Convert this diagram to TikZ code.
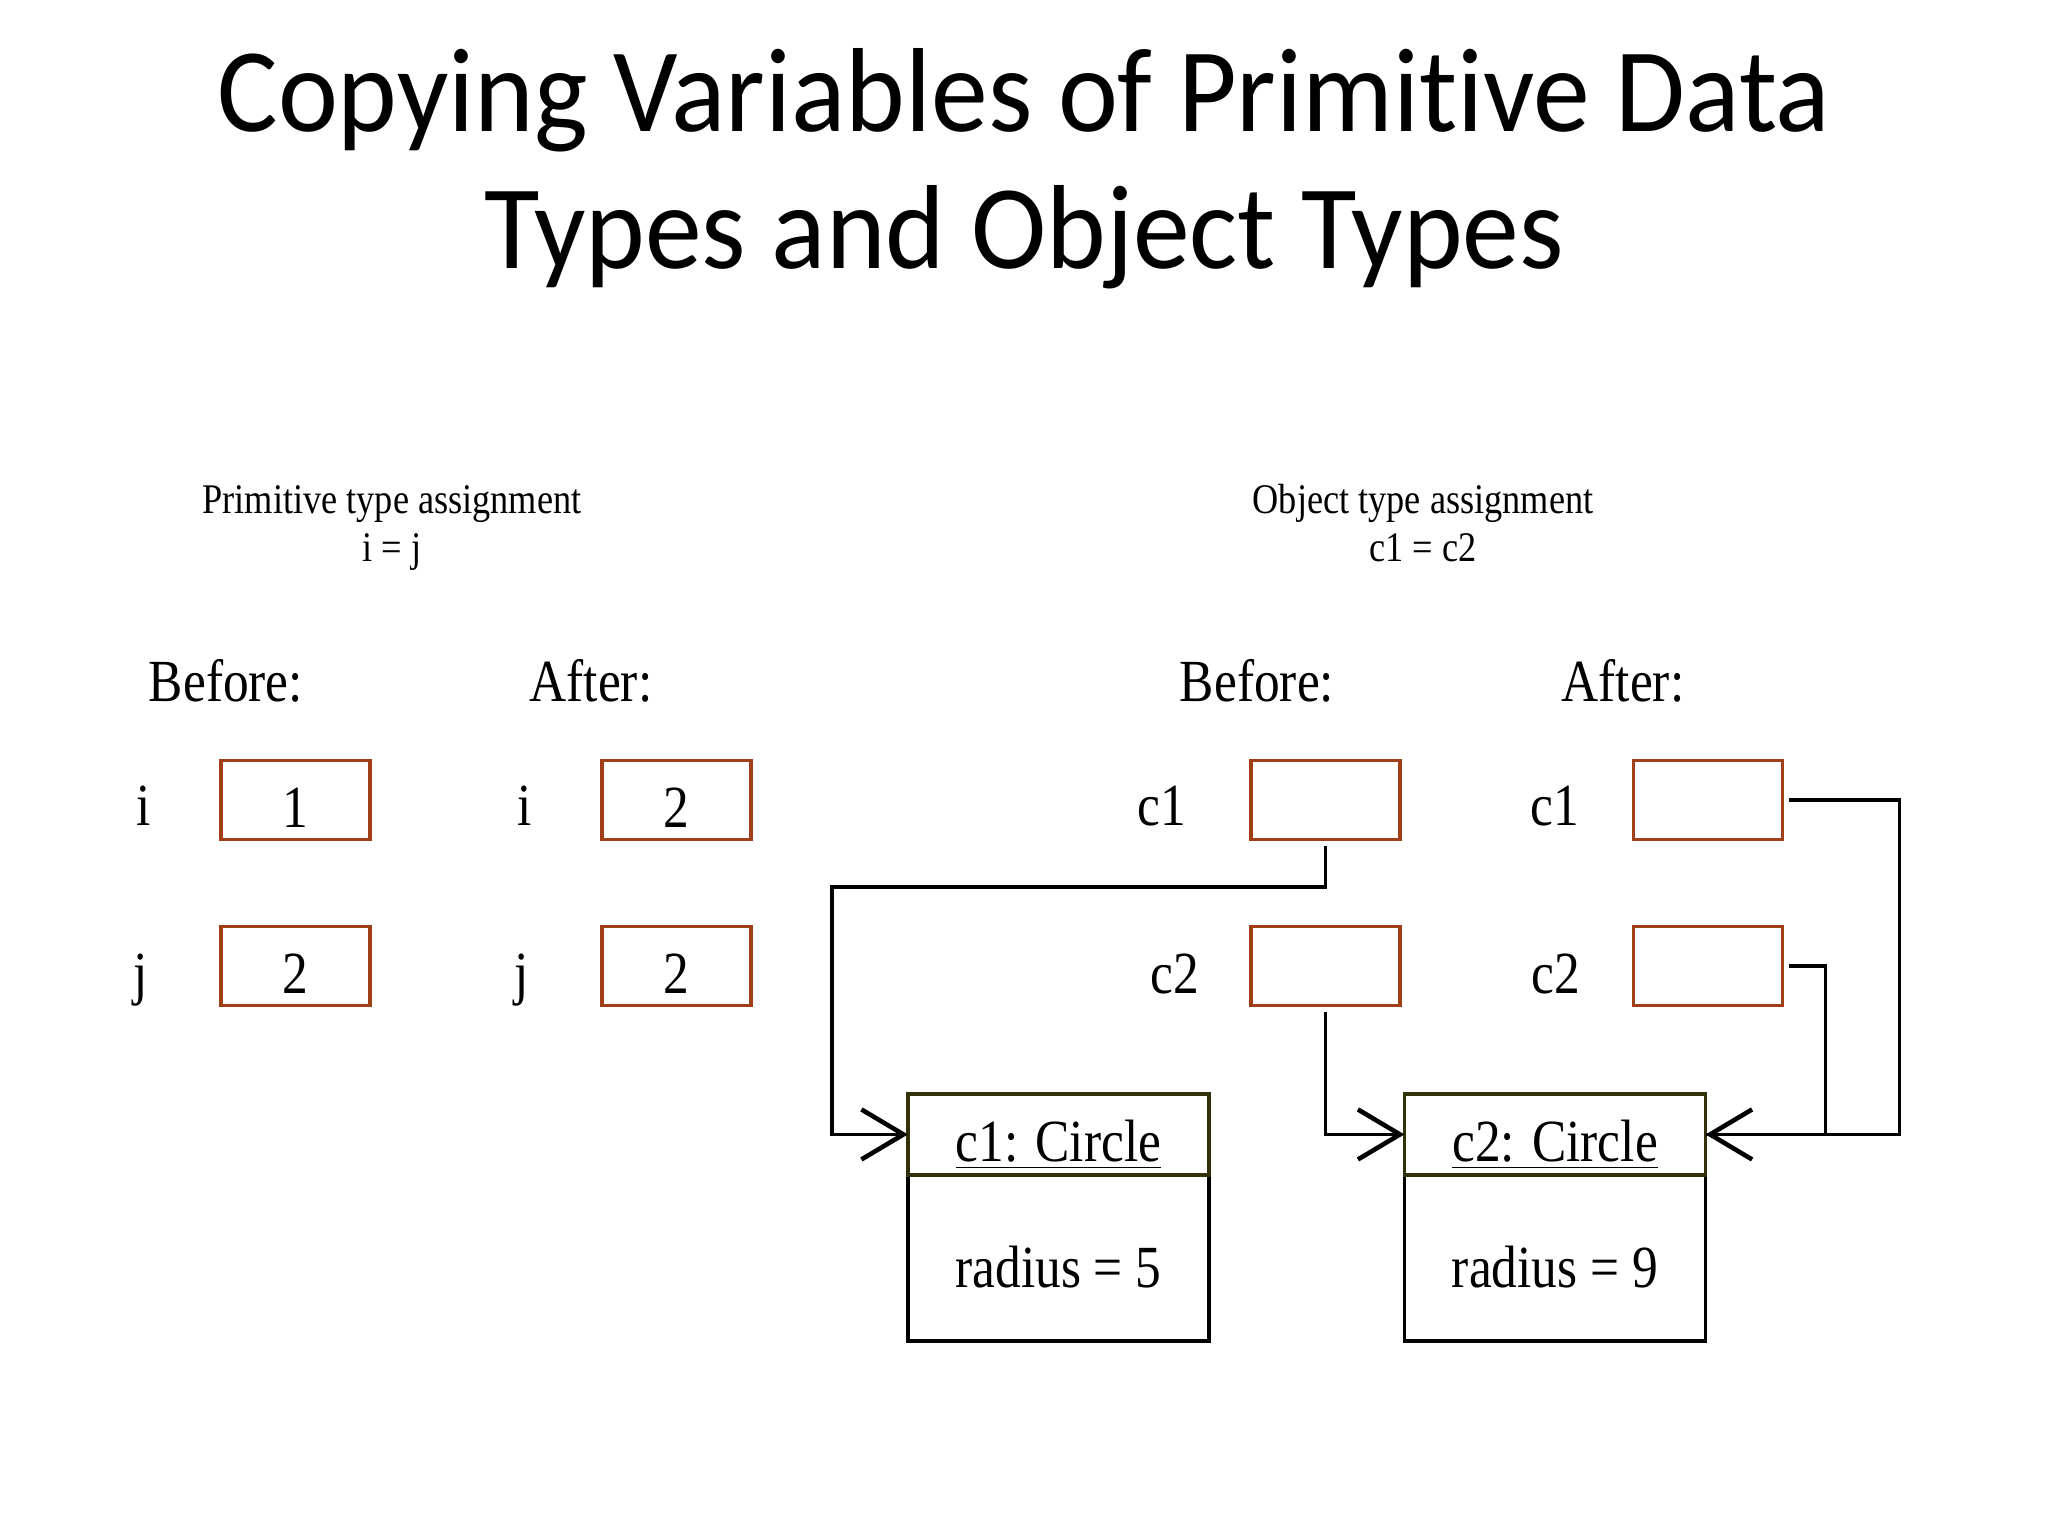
\documentclass[tikz,border=0pt]{standalone}
\usepackage{fontspec}
\setmainfont{Liberation Serif}[FakeStretch=0.86]
\newfontfamily\titlefont{Carlito}[FakeStretch=0.95, Ligatures={NoCommon,NoRare}]
\usetikzlibrary{positioning,arrows.meta}

\definecolor{boxbrown}{RGB}{160,62,22}
\definecolor{headolive}{RGB}{50,50,10}

\tikzset{
  big/.style={font=\fontsize{17}{20}\selectfont},
  small/.style={font=\fontsize{12}{14}\selectfont},
  valbox/.style={big, draw=boxbrown, line width=1pt, minimum width=1.49cm,
    minimum height=0.79cm, inner sep=0pt, text height=0.54cm, text depth=0pt},
  varname/.style={big, anchor=base, inner sep=0pt},
  objhead/.style={big, draw=headolive, line width=1pt, minimum width=3.01cm,
    minimum height=0.81cm, inner sep=0pt, outer sep=0pt,
    text height=0.54cm, text depth=0pt},
  objbody/.style={big, draw=black, line width=1pt, minimum width=3.01cm,
    minimum height=1.66cm, inner sep=0pt, outer sep=0pt,
    text height=0.58cm, text depth=0pt},
  ref/.style={line width=1pt, shorten <=0.05cm,
    -{Straight Barb[length=0.42cm, width=0.5cm, line width=1.3pt]}}
}

\begin{document}
\begin{tikzpicture}[x=0.01cm, y=-0.01cm]
	% page frame, one unit is one pixel of the slide
	\useasboundingbox (0,0) rectangle (2048,1536);
	% title
	\node[anchor=base, font=\titlefont\fontsize{34}{41}\selectfont] (titleA) at (1024,131) {Copying Variables of Primit\kern0pt ive Data};
	\node[anchor=base, font=\titlefont\fontsize{34}{41}\selectfont] (titleB) at (1024,268) {Types and Object Types};

	% primitive side
	\node[small, anchor=base] (primHead) at (392,513) {Primitive type assignment};
	\node[small, anchor=base] (primEq) at (392,561) {i = j};
	\node[varname] (primBefore) at (226,701) {Before:};
	\node[varname] (primAfter) at (591,701) {After:};

	\node[valbox] (ib) at (295.5,800) {1};
	\node[valbox] (jb) at (295.5,966) {2};
	\node[valbox] (ia) at (676.5,800) {2};
	\node[valbox] (ja) at (676.5,966) {2};
	\node[varname] (ibName) at (144,825) {i};
	\node[varname] (jbName) at (141,993) {j};
	\node[varname] (iaName) at (525,825) {i};
	\node[varname] (jaName) at (522,993) {j};

	% object side
	\node[small, anchor=base] (objHead) at (1423,513) {Object type assignment};
	\node[small, anchor=base] (objEq) at (1423,561) {c1 = c2};
	\node[varname] (objBefore) at (1257,701) {Before:};
	\node[varname] (objAfter) at (1623,701) {After:};

	\node[valbox] (c1b) at (1325.5,800) {};
	\node[valbox] (c2b) at (1325.5,966) {};
	\node[valbox] (c1a) at (1708,800) {};
	\node[valbox] (c2a) at (1708,966) {};
	\node[varname] (c1bName) at (1162,825) {c1};
	\node[varname] (c2bName) at (1175,993) {c2};
	\node[varname] (c1aName) at (1555,825) {c1};
	\node[varname] (c2aName) at (1556,993) {c2};

	% the two Circle objects
	\node[objbody] (objAbody) at (1058.5,1258) {radius = 5};
	\node[objhead, above=0pt of objAbody] (objA) {\underline{c1: Circle}};
	\node[objbody] (objBbody) at (1555,1258) {radius = 9};
	\node[objhead, above=0pt of objBbody] (objB) {\underline{c2: Circle}};

	% references
	\coordinate (bendA) at (832,887);
	\draw[ref] (c1b.south) |- (bendA) |- (objA.west);
	\draw[ref] (c2b.south) |- (objB.west);
	\draw[ref] (c1a.east) -- ++(115,0) |- (objB.east);
	\draw[line width=1pt, shorten <=0.05cm] (c2a.east) -- ++(41,0) |- (objB.east);
\end{tikzpicture}
\end{document}
